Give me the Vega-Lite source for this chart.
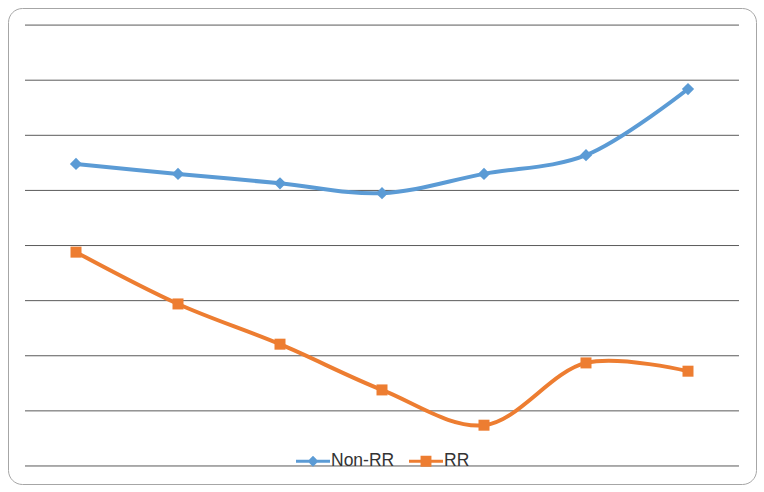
{
  "$schema": "https://vega.github.io/schema/vega-lite/v6.json",
  "width": 748,
  "height": 476,
  "padding": {"left": 8, "top": 8, "right": 8, "bottom": 8},
  "autosize": {"type": "none"},
  "background": "white",
  "config": {
    "view": {"stroke": "#a6a6a6", "strokeWidth": 1, "cornerRadius": 14},
    "font": "Liberation Sans"
  },
  "datasets": {
    "series": [
      {"cat": 1, "series": "Non-RR", "value": 5.48},
      {"cat": 2, "series": "Non-RR", "value": 5.30},
      {"cat": 3, "series": "Non-RR", "value": 5.13},
      {"cat": 4, "series": "Non-RR", "value": 4.95},
      {"cat": 5, "series": "Non-RR", "value": 5.30},
      {"cat": 6, "series": "Non-RR", "value": 5.64},
      {"cat": 7, "series": "Non-RR", "value": 6.84},
      {"cat": 1, "series": "RR", "value": 3.88},
      {"cat": 2, "series": "RR", "value": 2.94},
      {"cat": 3, "series": "RR", "value": 2.21},
      {"cat": 4, "series": "RR", "value": 1.38},
      {"cat": 5, "series": "RR", "value": 0.74},
      {"cat": 6, "series": "RR", "value": 1.87},
      {"cat": 7, "series": "RR", "value": 1.72}
    ],
    "grid": [
      {"g": 0, "start": 0.5, "end": 7.5},
      {"g": 1, "start": 0.5, "end": 7.5},
      {"g": 2, "start": 0.5, "end": 7.5},
      {"g": 3, "start": 0.5, "end": 7.5},
      {"g": 4, "start": 0.5, "end": 7.5},
      {"g": 5, "start": 0.5, "end": 7.5},
      {"g": 6, "start": 0.5, "end": 7.5},
      {"g": 7, "start": 0.5, "end": 7.5},
      {"g": 8, "start": 0.5, "end": 7.5}
    ]
  },
  "layer": [
    {
      "data": {"name": "grid"},
      "mark": {"type": "rule", "color": "#5a5a5a", "strokeWidth": 1},
      "encoding": {
        "y": {"field": "g", "type": "quantitative", "scale": {"domain": [-0.327, 8.31], "nice": false, "zero": false}, "axis": null},
        "x": {"field": "start", "type": "quantitative", "scale": {"domain": [0.3333, 7.6667], "nice": false, "zero": false}, "axis": null},
        "x2": {"field": "end"}
      }
    },
    {
      "data": {"name": "series"},
      "mark": {"type": "line", "strokeWidth": 4, "interpolate": "catmull-rom"},
      "encoding": {
        "x": {"field": "cat", "type": "quantitative", "axis": null},
        "y": {"field": "value", "type": "quantitative", "axis": null},
        "color": {
          "field": "series",
          "type": "nominal",
          "scale": {"domain": ["Non-RR", "RR"], "range": ["#5B9BD5", "#ED7D31"]},
          "legend": {
            "orient": "none",
            "legendX": 288,
            "legendY": 436,
            "direction": "horizontal",
            "title": null,
            "symbolType": "M-1,-0.09L1,-0.09L1,0.09L-1,0.09Z",
            "symbolSize": 1156,
            "labelFontSize": 17.5,
            "labelFont": "Liberation Sans",
            "labelColor": "#333333",
            "labelOffset": 1,
            "columnPadding": 14,
            "encode": {
              "symbols": {
                "update": {
                  "shape": {"signal": "datum.value === 'RR' ? 'M-1,-0.09L1,-0.09L1,0.09L-1,0.09Z M-0.32,-0.32L0.32,-0.32L0.32,0.32L-0.32,0.32Z' : 'M-1,-0.09L1,-0.09L1,0.09L-1,0.09Z M0,-0.32L0.32,0L0,0.32L-0.32,0Z'"},
                  "size": {"value": 1156},
                  "fill": {"signal": "datum.value === 'RR' ? '#ED7D31' : '#5B9BD5'"},
                  "fillOpacity": {"value": 1},
                  "strokeWidth": {"value": 0}
                }
              }
            }
          }
        }
      }
    },
    {
      "data": {"name": "series"},
      "transform": [{"filter": "datum.series === 'Non-RR'"}],
      "mark": {"type": "point", "shape": "diamond", "filled": true, "opacity": 1, "size": 150, "color": "#5B9BD5"},
      "encoding": {
        "x": {"field": "cat", "type": "quantitative", "axis": null},
        "y": {"field": "value", "type": "quantitative", "axis": null}
      }
    },
    {
      "data": {"name": "series"},
      "transform": [{"filter": "datum.series === 'RR'"}],
      "mark": {"type": "point", "shape": "square", "filled": true, "opacity": 1, "size": 121, "color": "#ED7D31"},
      "encoding": {
        "x": {"field": "cat", "type": "quantitative", "axis": null},
        "y": {"field": "value", "type": "quantitative", "axis": null}
      }
    }
  ]
}
